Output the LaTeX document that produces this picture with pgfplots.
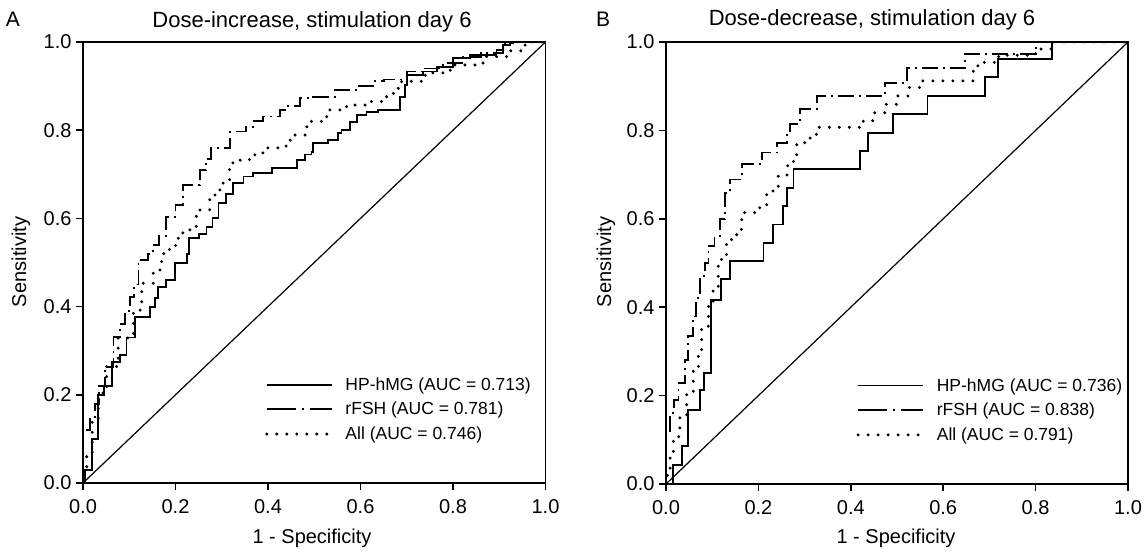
\documentclass[border=0pt]{standalone}
\usepackage{pgfplots}
\pgfplotsset{compat=1.18}
\usepackage{fontspec}
\setmainfont{Liberation Sans}
\newcommand{\myfs}[1]{\fontsize{#1}{#1}\selectfont}
\pgfplotsset{
  rocaxis/.style={
    scale only axis, width=462.5pt, height=441pt,
    xmin=0,xmax=1,ymin=0,ymax=1,
    xtick={0,0.2,0.4,0.6,0.8,1}, ytick={0,0.2,0.4,0.6,0.8,1},
    xticklabels={0.0,0.2,0.4,0.6,0.8,1.0},
    yticklabels={0.0,0.2,0.4,0.6,0.8,1.0},
    ticklabel style={font=\myfs{20}},
    xticklabel style={yshift=-6pt},
    yticklabel style={xshift=-1pt},
    tick align=outside, tick pos=left, major tick length=7pt,
    axis line style={line width=1.9pt},
    every tick/.style={line width=1.6pt, black},
    legend style={draw=none, fill=none, inner sep=0pt, font=\myfs{17.5},
      row sep=6.5pt, anchor=west, cells={anchor=west},
      /tikz/every odd column/.style={column sep=10pt}},
    legend image code/.code={\draw[#1] (0pt,0pt) -- (65pt,0pt);},
  },
  hp/.style={black, line width=1.9pt},
  rf/.style={black, line width=1.9pt, dash pattern=on 16pt off 5pt on 2pt off 5pt},
  al/.style={black, line width=3.3pt, line cap=round, dash pattern=on 0pt off 10pt},
  diag/.style={black, line width=1.2pt},
}
\begin{document}
\begin{tikzpicture}
\useasboundingbox (0,0) rectangle (1144pt,554pt);
% ---------------- Panel A ----------------
\begin{axis}[rocaxis, at={(83pt,71pt)}, anchor=south west,
  legend style={at={(rel axis cs:0.3935,0.167)}}]
\addlegendimage{hp}
\addlegendentry{HP-hMG (AUC = 0.713)}
\addlegendimage{rf, dash pattern=on 29pt off 6pt on 2pt off 6pt}
\addlegendentry{rFSH (AUC = 0.781)}
\addlegendimage{al}
\addlegendentry{All (AUC = 0.746)}
\addplot[diag, forget plot] coordinates {(0,0) (1,1)};
\addplot[hp, const plot, forget plot] coordinates {
(0,0) (0.005,0.03) (0.02,0.10) (0.033,0.20) (0.045,0.22) (0.062,0.275) (0.08,0.29)
(0.094,0.33) (0.112,0.377) (0.145,0.40) (0.155,0.42) (0.163,0.445) (0.18,0.46)
(0.199,0.498) (0.224,0.52) (0.23,0.555) (0.25,0.565) (0.267,0.581) (0.28,0.60)
(0.293,0.634) (0.31,0.655) (0.325,0.68) (0.347,0.695) (0.368,0.703) (0.408,0.714)
(0.462,0.732) (0.48,0.745) (0.494,0.751) (0.498,0.77) (0.53,0.778) (0.552,0.793)
(0.559,0.80) (0.577,0.819) (0.592,0.834) (0.613,0.842) (0.638,0.846) (0.685,0.876)
(0.696,0.902) (0.70,0.925) (0.736,0.933) (0.765,0.944) (0.80,0.963) (0.837,0.97)
(0.894,0.982) (0.909,0.993) (0.923,1) (1,1)};
\addplot[rf, const plot, forget plot] coordinates {
(0,0) (0,0.12) (0.015,0.15) (0.026,0.18) (0.035,0.22) (0.048,0.264) (0.066,0.332)
(0.08,0.36) (0.09,0.39) (0.102,0.422) (0.11,0.45) (0.12,0.506) (0.14,0.52)
(0.151,0.54) (0.165,0.56) (0.18,0.604) (0.2,0.63) (0.216,0.676) (0.252,0.71)
(0.265,0.735) (0.277,0.759) (0.317,0.797) (0.353,0.808) (0.37,0.82) (0.389,0.831)
(0.425,0.846) (0.44,0.855) (0.469,0.872) (0.498,0.875) (0.545,0.891) (0.59,0.90)
(0.628,0.911) (0.65,0.915) (0.70,0.933) (0.74,0.94) (0.778,0.952) (0.82,0.965)
(0.86,0.975) (0.909,0.998) (0.93,1) (1,1)};
\addplot[al, const plot, forget plot] coordinates {
(0,0) (0.003,0.03) (0.008,0.068) (0.02,0.14) (0.033,0.204) (0.051,0.264) (0.076,0.329)
(0.109,0.392) (0.127,0.453) (0.152,0.483) (0.17,0.52) (0.187,0.536) (0.2,0.555)
(0.216,0.574) (0.245,0.619) (0.274,0.653) (0.296,0.68) (0.317,0.717) (0.324,0.732)
(0.36,0.744) (0.389,0.76) (0.425,0.764) (0.448,0.789) (0.484,0.82) (0.527,0.846)
(0.57,0.857) (0.613,0.865) (0.649,0.876) (0.671,0.895) (0.689,0.911) (0.74,0.93)
(0.794,0.948) (0.865,0.967) (0.92,0.98) (0.952,0.993) (0.97,1) (1,1)};
\end{axis}
% ---------------- Panel B ----------------
\begin{axis}[rocaxis, at={(666pt,70pt)}, anchor=south west, width=462pt, height=442pt,
  legend style={at={(rel axis cs:0.412,0.167)}}]
\addlegendimage{hp}
\addlegendentry{HP-hMG (AUC = 0.736)}
\addlegendimage{rf, dash pattern=on 29pt off 6pt on 2pt off 6pt}
\addlegendentry{rFSH (AUC = 0.838)}
\addlegendimage{al}
\addlegendentry{All (AUC = 0.791)}
\addplot[diag, forget plot] coordinates {(0,0) (1,1)};
\addplot[hp, const plot, forget plot] coordinates {
(0,0) (0.016,0.043) (0.034,0.085) (0.048,0.168) (0.074,0.213) (0.083,0.251)
(0.097,0.417) (0.12,0.463) (0.139,0.504) (0.211,0.546) (0.232,0.587) (0.254,0.629)
(0.261,0.67) (0.276,0.712) (0.42,0.753) (0.438,0.795) (0.492,0.837) (0.566,0.878)
(0.69,0.92) (0.719,0.961) (0.835,1) (1,1)};
\addplot[rf, const plot, forget plot] coordinates {
(0,0) (0,0.12) (0.009,0.16) (0.018,0.19) (0.027,0.228) (0.041,0.281) (0.048,0.334)
(0.059,0.379) (0.065,0.42) (0.074,0.47) (0.085,0.5) (0.092,0.538) (0.105,0.56)
(0.117,0.599) (0.128,0.659) (0.139,0.689) (0.164,0.723) (0.207,0.75) (0.24,0.772)
(0.262,0.79) (0.268,0.814) (0.29,0.848) (0.326,0.878) (0.474,0.908) (0.521,0.942)
(0.647,0.973) (0.80,1) (1,1)};
\addplot[al, const plot, forget plot] coordinates {
(0,0) (0.003,0.03) (0.009,0.062) (0.016,0.107) (0.03,0.153) (0.045,0.206) (0.059,0.259)
(0.07,0.304) (0.077,0.357) (0.092,0.402) (0.102,0.447) (0.113,0.508) (0.131,0.553)
(0.153,0.576) (0.164,0.614) (0.203,0.629) (0.218,0.663) (0.243,0.697) (0.262,0.72)
(0.276,0.738) (0.283,0.772) (0.312,0.791) (0.326,0.807) (0.427,0.822) (0.449,0.84)
(0.474,0.859) (0.499,0.878) (0.524,0.897) (0.553,0.912) (0.665,0.942) (0.675,0.954)
(0.72,0.97) (0.80,0.984) (0.835,1) (1,1)};
\end{axis}
% ---------------- Texts ----------------
\node[font=\myfs{22}] at (312pt,532pt) {Dose-increase, stimulation day 6};
\node[font=\myfs{22}] at (872pt,534pt) {Dose-decrease, stimulation day 6};
\node[font=\myfs{21}] at (13pt,535pt) {A};
\node[font=\myfs{21}] at (603pt,535pt) {B};
\node[font=\myfs{20}] at (312pt,16pt) {1 - Specificity};
\node[font=\myfs{20}] at (896pt,16pt) {1 - Specificity};
\node[font=\myfs{20}, rotate=90] at (21pt,292pt) {Sensitivity};
\node[font=\myfs{20}, rotate=90] at (606pt,292pt) {Sensitivity};
\end{tikzpicture}
\end{document}
